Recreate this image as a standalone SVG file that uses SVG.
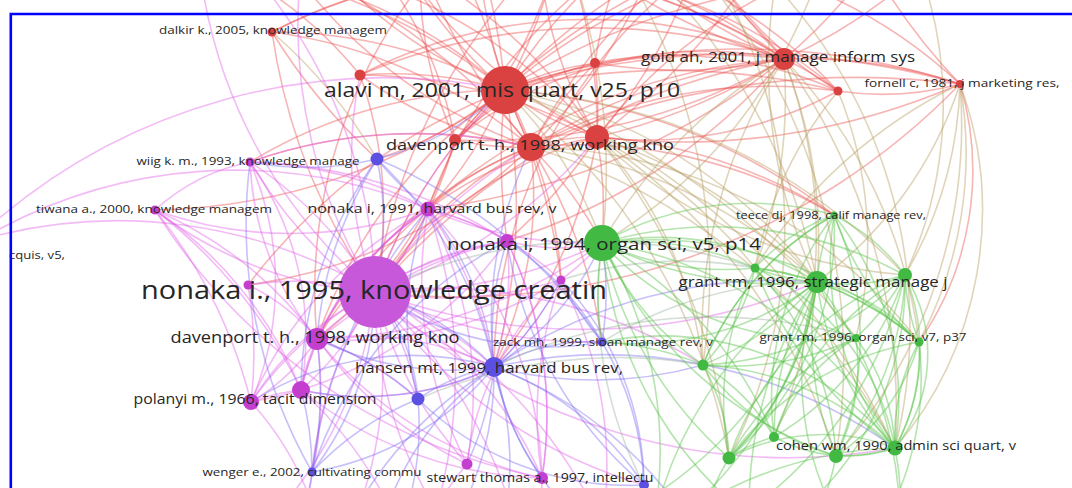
<svg xmlns="http://www.w3.org/2000/svg" width="1072" height="488" viewBox="0 0 1072 488">
<style>
#edges path{fill:none;stroke-width:1.6;stroke-opacity:.42}
#edges .r path{stroke:#ec4d4d}
#edges .o path{stroke:#b49a5c}
#edges .p path{stroke:#e05ee6}
#edges .b path{stroke:#7d6cf0}
#edges .m path{stroke:#98b09c}
#edges .g path{stroke:#5cc34c;stroke-opacity:.45}
.red{fill:#da4242}
.pur{fill:#c43fcf}
.blu{fill:#5c50e2}
.grn{fill:#42b942}
text{font-family:"Open Sans","Liberation Sans",sans-serif;fill:#262626;text-anchor:middle}
</style>
<rect width="1072" height="488" fill="#ffffff"/>
<g id="edges">
<g class="r">
<path d="M505 90A600 600 0 0 1 784 59"/>
<path d="M505 90A700 700 0 0 1 960 84"/>
<path d="M505 90A300 300 0 0 1 531 147"/>
<path d="M505 90A300 300 0 0 0 597 137"/>
<path d="M505 90A300 300 0 0 1 455 140"/>
<path d="M360 75A400 400 0 0 1 505 90"/>
<path d="M505 90A300 300 0 0 1 595 63"/>
<path d="M505 90A700 700 0 0 1 838 91"/>
<path d="M505 90A500 500 0 0 0 375 292"/>
<path d="M505 90A400 400 0 0 1 428 209"/>
<path d="M505 90A400 400 0 0 1 377 159"/>
<path d="M505 90A500 500 0 0 0 250 162"/>
<path d="M505 90A500 500 0 0 1 400 -40"/>
<path d="M505 90A500 500 0 0 0 560 -60"/>
<path d="M505 90A600 600 0 0 1 700 -50"/>
<path d="M505 90A500 500 0 0 0 300 -20"/>
<path d="M505 90A700 700 0 0 1 860 -20"/>
<path d="M505 90A500 500 0 0 1 620 -40"/>
<path d="M505 90A500 500 0 0 0 450 -50"/>
<path d="M505 90A500 500 0 0 1 350 -10"/>
<path d="M505 90A600 600 0 0 0 480 -40"/>
<path d="M505 90A600 600 0 0 1 760 -40"/>
<path d="M505 90A600 600 0 0 1 155 210"/>
<path d="M505 90A500 500 0 0 0 317 339"/>
<path d="M505 90A600 600 0 0 1 494 367"/>
<path d="M505 90A600 600 0 0 0 507 241"/>
<path d="M505 90A600 600 0 0 1 834 215"/>
<path d="M505 90A600 600 0 0 0 248 285"/>
<path d="M505 90A600 600 0 0 1 561 280"/>
<path d="M272 32A500 500 0 0 1 505 90"/>
<path d="M272 32A500 500 0 0 1 531 147"/>
<path d="M272 32A600 600 0 0 0 377 159"/>
<path d="M272 32A600 600 0 0 1 600 -30"/>
<path d="M272 32A600 600 0 0 0 375 292"/>
<path d="M272 32A500 500 0 0 1 784 59"/>
<path d="M784 59A500 500 0 0 1 960 84"/>
<path d="M784 59A600 600 0 0 0 531 147"/>
<path d="M784 59A600 600 0 0 1 597 137"/>
<path d="M784 59A300 300 0 0 1 838 91"/>
<path d="M784 59A500 500 0 0 1 595 63"/>
<path d="M784 59A500 500 0 0 1 700 -50"/>
<path d="M784 59A500 500 0 0 0 860 -20"/>
<path d="M784 59A600 600 0 0 1 560 -60"/>
<path d="M784 59A700 700 0 0 0 375 292"/>
<path d="M784 59A500 500 0 0 1 640 -30"/>
<path d="M784 59A500 500 0 0 0 920 -30"/>
<path d="M784 59A700 700 0 0 1 428 209"/>
<path d="M784 59A600 600 0 0 1 455 140"/>
<path d="M784 59A600 600 0 0 0 360 75"/>
<path d="M784 59A600 600 0 0 1 507 241"/>
<path d="M784 59A600 600 0 0 0 317 339"/>
<path d="M960 84A300 300 0 0 1 838 91"/>
<path d="M960 84A800 800 0 0 0 531 147"/>
<path d="M960 84A700 700 0 0 1 597 137"/>
<path d="M960 84A600 600 0 0 1 880 -20"/>
<path d="M960 84A800 800 0 0 0 505 90"/>
<path d="M960 84A700 700 0 0 1 375 292"/>
<path d="M960 84A300 300 0 0 1 919 342"/>
<path d="M531 147A200 200 0 0 1 597 137"/>
<path d="M531 147A400 400 0 0 0 375 292"/>
<path d="M531 147A400 400 0 0 1 602 243"/>
<path d="M531 147A300 300 0 0 0 428 209"/>
<path d="M531 147A400 400 0 0 1 494 367"/>
<path d="M531 147A400 400 0 0 0 317 339"/>
<path d="M531 147A300 300 0 0 1 455 140"/>
<path d="M531 147A500 500 0 0 1 480 -30"/>
<path d="M531 147A500 500 0 0 0 650 -30"/>
<path d="M531 147A500 500 0 0 1 602 342"/>
<path d="M531 147A500 500 0 0 1 834 215"/>
<path d="M531 147A500 500 0 0 0 250 162"/>
<path d="M531 147A500 500 0 0 1 248 285"/>
<path d="M531 147A600 600 0 0 1 420 -40"/>
<path d="M531 147A600 600 0 0 0 300 -30"/>
<path d="M531 147A400 400 0 0 1 561 280"/>
<path d="M597 137A400 400 0 0 1 602 243"/>
<path d="M597 137A400 400 0 0 0 375 292"/>
<path d="M597 137A500 500 0 0 0 700 -50"/>
<path d="M597 137A500 500 0 0 1 494 367"/>
<path d="M597 137A500 500 0 0 0 560 -60"/>
<path d="M597 137A500 500 0 0 1 400 -40"/>
<path d="M597 137A500 500 0 0 1 507 241"/>
<path d="M597 137A400 400 0 0 0 428 209"/>
<path d="M597 137A500 500 0 0 1 834 215"/>
<path d="M455 140A400 400 0 0 1 375 292"/>
<path d="M455 140A400 400 0 0 0 560 -60"/>
<path d="M455 140A400 400 0 0 1 317 339"/>
<path d="M455 140A400 400 0 0 1 784 59"/>
<path d="M455 140A400 400 0 0 0 380 -30"/>
<path d="M360 75A400 400 0 0 0 531 147"/>
<path d="M360 75A400 400 0 0 1 375 292"/>
<path d="M360 75A500 500 0 0 1 784 59"/>
<path d="M360 75A400 400 0 0 0 250 -20"/>
<path d="M360 75A500 500 0 0 1 597 137"/>
<path d="M595 63A400 400 0 0 1 620 -30"/>
<path d="M595 63A400 400 0 0 0 531 147"/>
<path d="M595 63A400 400 0 0 1 838 91"/>
<path d="M595 63A300 300 0 0 0 455 140"/>
<path d="M595 63A400 400 0 0 1 597 137"/>
<path d="M838 91A400 400 0 0 1 700 -50"/>
<path d="M838 91A500 500 0 0 0 531 147"/>
<path d="M838 91A400 400 0 0 1 597 137"/>
<path d="M400 -40A500 500 0 0 1 597 137"/>
<path d="M300 -20A500 500 0 0 0 531 147"/>
<path d="M450 -50A500 500 0 0 0 317 339"/>
<path d="M380 -30A600 600 0 0 1 784 59"/>
<path d="M680 -20A500 500 0 0 0 494 367"/>
<path d="M250 -30A600 600 0 0 1 505 90"/>
<path d="M420 -30A400 400 0 0 0 455 140"/>
<path d="M640 -40A500 500 0 0 1 838 91"/>
<path d="M540 -40A400 400 0 0 0 597 137"/>
<path d="M700 -50A600 600 0 0 0 531 147"/>
<path d="M760 -40A600 600 0 0 1 597 137"/>
<path d="M520 -40A500 500 0 0 1 784 59"/>
<path d="M330 -30A500 500 0 0 1 597 137"/>
<path d="M600 -50A500 500 0 0 1 960 84"/>
<path d="M560 -60A600 600 0 0 0 375 292"/>
<path d="M620 -40A500 500 0 0 0 428 209"/>
<path d="M720 -40A600 600 0 0 0 455 140"/>
<path d="M480 -30A500 500 0 0 1 838 91"/>
<path d="M820 -30A500 500 0 0 0 597 137"/>
<path d="M660 -50A500 500 0 0 1 784 59"/>
</g>
<g class="o">
<path d="M505 90A600 600 0 0 1 729 458"/>
<path d="M505 90A700 700 0 0 1 856 338"/>
<path d="M505 90A500 500 0 0 1 817 282"/>
<path d="M505 90A400 400 0 0 1 602 243"/>
<path d="M505 90A600 600 0 0 1 905 275"/>
<path d="M505 90A700 700 0 0 1 895 448"/>
<path d="M784 59A500 500 0 0 1 919 342"/>
<path d="M784 59A500 500 0 0 1 774 437"/>
<path d="M784 59A500 500 0 0 0 602 243"/>
<path d="M784 59A600 600 0 0 1 895 448"/>
<path d="M784 59A500 500 0 0 1 817 282"/>
<path d="M784 59A500 500 0 0 0 703 365"/>
<path d="M784 59A500 500 0 0 1 755 268"/>
<path d="M960 84A400 400 0 0 1 919 342"/>
<path d="M960 84A500 500 0 0 1 836 456"/>
<path d="M960 84A400 400 0 0 1 905 275"/>
<path d="M960 84A400 400 0 0 1 817 282"/>
<path d="M960 84A367 367 0 0 1 895 448"/>
<path d="M960 84A500 500 0 0 0 755 268"/>
<path d="M531 147A600 600 0 0 1 895 448"/>
<path d="M531 147A500 500 0 0 1 817 282"/>
<path d="M531 147A500 500 0 0 1 919 342"/>
<path d="M597 137A600 600 0 0 1 836 456"/>
<path d="M597 137A400 400 0 0 1 703 365"/>
<path d="M597 137A500 500 0 0 1 817 282"/>
<path d="M597 137A500 500 0 0 1 755 268"/>
<path d="M597 137A600 600 0 0 1 729 458"/>
<path d="M597 137A500 500 0 0 0 905 275"/>
<path d="M650 -30A600 600 0 0 1 817 282"/>
<path d="M560 -60A600 600 0 0 1 602 243"/>
<path d="M750 -40A500 500 0 0 1 895 448"/>
<path d="M820 -30A500 500 0 0 1 602 243"/>
<path d="M700 -50A500 500 0 0 1 729 458"/>
<path d="M620 -40A600 600 0 0 1 703 365"/>
<path d="M838 91A400 400 0 0 1 856 338"/>
<path d="M838 91A400 400 0 0 0 755 268"/>
<path d="M920 -30A400 400 0 0 1 905 275"/>
<path d="M272 32A500 500 0 0 1 377 159"/>
<path d="M780 -40A500 500 0 0 0 817 282"/>
<path d="M690 -40A600 600 0 0 1 836 456"/>
</g>
<g class="p">
<path d="M375 292A400 400 0 0 0 250 162"/>
<path d="M375 292A400 400 0 0 1 155 210"/>
<path d="M375 292A300 300 0 0 0 248 285"/>
<path d="M375 292A300 300 0 0 1 317 339"/>
<path d="M375 292A300 300 0 0 0 251 402"/>
<path d="M375 292A300 300 0 0 1 301 390"/>
<path d="M375 292A300 300 0 0 0 428 209"/>
<path d="M375 292A300 300 0 0 1 507 241"/>
<path d="M375 292A500 500 0 0 0 602 243"/>
<path d="M375 292A400 400 0 0 1 494 367"/>
<path d="M375 292A500 500 0 0 0 602 342"/>
<path d="M375 292A400 400 0 0 1 542 478"/>
<path d="M375 292A400 400 0 0 0 312 472"/>
<path d="M375 292A300 300 0 0 1 418 399"/>
<path d="M375 292A400 400 0 0 0 561 280"/>
<path d="M375 292A500 500 0 0 0 -20 240"/>
<path d="M375 292A400 400 0 0 1 350 530"/>
<path d="M375 292A400 400 0 0 0 450 530"/>
<path d="M375 292A500 500 0 0 1 300 -20"/>
<path d="M375 292A600 600 0 0 0 817 282"/>
<path d="M375 292A500 500 0 0 1 703 365"/>
<path d="M375 292A600 600 0 0 0 895 448"/>
<path d="M375 292A500 500 0 0 1 200 -30"/>
<path d="M375 292A500 500 0 0 0 250 -30"/>
<path d="M375 292A400 400 0 0 1 270 520"/>
<path d="M375 292A500 500 0 0 0 644 485"/>
<path d="M375 292A400 400 0 0 0 467 464"/>
<path d="M375 292A500 500 0 0 1 520 540"/>
<path d="M375 292A500 500 0 0 0 597 137"/>
<path d="M375 292A500 500 0 0 1 505 90"/>
<path d="M375 292A500 500 0 0 1 531 147"/>
<path d="M375 292A400 400 0 0 1 360 75"/>
<path d="M375 292A500 500 0 0 1 600 520"/>
<path d="M250 162A400 400 0 0 1 428 209"/>
<path d="M250 162A300 300 0 0 0 317 339"/>
<path d="M250 162A300 300 0 0 1 251 402"/>
<path d="M250 162A300 300 0 0 1 301 390"/>
<path d="M250 162A200 200 0 0 0 155 210"/>
<path d="M250 162A500 500 0 0 1 531 147"/>
<path d="M250 162A500 500 0 0 1 507 241"/>
<path d="M250 162A500 500 0 0 0 494 367"/>
<path d="M-20 240A500 500 0 0 1 428 209"/>
<path d="M-20 235A600 600 0 0 1 505 90"/>
<path d="M155 210A400 400 0 0 1 317 339"/>
<path d="M155 210A400 400 0 0 0 428 209"/>
<path d="M155 210A500 500 0 0 1 251 402"/>
<path d="M155 210A500 500 0 0 1 301 390"/>
<path d="M155 210A600 600 0 0 0 542 478"/>
<path d="M428 209A300 300 0 0 1 507 241"/>
<path d="M428 209A300 300 0 0 0 317 339"/>
<path d="M428 209A400 400 0 0 1 494 367"/>
<path d="M428 209A400 400 0 0 0 251 402"/>
<path d="M428 209A400 400 0 0 1 542 478"/>
<path d="M428 209A400 400 0 0 0 602 243"/>
<path d="M428 209A500 500 0 0 1 430 530"/>
<path d="M428 209A300 300 0 0 1 561 280"/>
<path d="M428 209A300 300 0 0 0 301 390"/>
<path d="M428 209A400 400 0 0 1 467 464"/>
<path d="M317 339A200 200 0 0 1 251 402"/>
<path d="M317 339A200 200 0 0 0 301 390"/>
<path d="M317 339A300 300 0 0 1 494 367"/>
<path d="M317 339A400 400 0 0 0 542 478"/>
<path d="M317 339A400 400 0 0 1 300 520"/>
<path d="M317 339A500 500 0 0 0 602 243"/>
<path d="M317 339A400 400 0 0 1 507 241"/>
<path d="M317 339A400 400 0 0 0 467 464"/>
<path d="M317 339A400 400 0 0 0 561 280"/>
<path d="M317 339A300 300 0 0 1 418 399"/>
<path d="M301 390A200 200 0 0 0 251 402"/>
<path d="M301 390A400 400 0 0 1 400 530"/>
<path d="M301 390A400 400 0 0 0 155 210"/>
<path d="M301 390A300 300 0 0 0 494 367"/>
<path d="M301 390A300 300 0 0 1 428 209"/>
<path d="M251 402A400 400 0 0 0 248 285"/>
<path d="M251 402A400 400 0 0 0 507 241"/>
<path d="M251 402A300 300 0 0 1 317 520"/>
<path d="M542 478A400 400 0 0 0 507 241"/>
<path d="M542 478A400 400 0 0 1 561 280"/>
<path d="M542 478A300 300 0 0 0 550 560"/>
<path d="M542 478A400 400 0 0 1 301 390"/>
<path d="M467 464A400 400 0 0 1 428 209"/>
<path d="M467 464A300 300 0 0 0 420 540"/>
<path d="M467 464A300 300 0 0 1 561 280"/>
<path d="M507 241A300 300 0 0 1 494 367"/>
<path d="M507 241A200 200 0 0 0 602 243"/>
<path d="M507 241A400 400 0 0 1 542 478"/>
<path d="M507 241A400 400 0 0 0 251 402"/>
<path d="M561 280A300 300 0 0 1 494 367"/>
<path d="M561 280A300 300 0 0 0 602 243"/>
<path d="M561 280A400 400 0 0 1 600 540"/>
<path d="M248 285A200 200 0 0 1 317 339"/>
</g>
<g class="b">
<path d="M494 367A300 300 0 0 0 375 292"/>
<path d="M494 367A200 200 0 0 1 602 342"/>
<path d="M494 367A200 200 0 0 0 418 399"/>
<path d="M494 367A300 300 0 0 1 312 472"/>
<path d="M494 367A300 300 0 0 0 542 478"/>
<path d="M494 367A300 300 0 0 1 644 485"/>
<path d="M494 367A300 300 0 0 0 428 209"/>
<path d="M494 367A300 300 0 0 1 317 339"/>
<path d="M494 367A300 300 0 0 0 602 243"/>
<path d="M494 367A300 300 0 0 1 450 530"/>
<path d="M494 367A300 300 0 0 0 600 540"/>
<path d="M494 367A500 500 0 0 1 817 282"/>
<path d="M494 367A400 400 0 0 0 703 365"/>
<path d="M494 367A500 500 0 0 1 895 448"/>
<path d="M494 367A400 400 0 0 0 377 159"/>
<path d="M494 367A300 300 0 0 1 500 540"/>
<path d="M494 367A300 300 0 0 0 380 530"/>
<path d="M494 367A300 300 0 0 1 467 464"/>
<path d="M494 367A400 400 0 0 1 531 147"/>
<path d="M494 367A300 300 0 0 1 507 241"/>
<path d="M494 367A300 300 0 0 0 561 280"/>
<path d="M494 367A300 300 0 0 1 301 390"/>
<path d="M494 367A300 300 0 0 0 251 402"/>
<path d="M494 367A400 400 0 0 1 700 540"/>
<path d="M494 367A400 400 0 0 0 340 540"/>
<path d="M377 159A300 300 0 0 1 375 292"/>
<path d="M377 159A300 300 0 0 0 428 209"/>
<path d="M377 159A400 400 0 0 0 317 339"/>
<path d="M377 159A500 500 0 0 1 602 342"/>
<path d="M377 159A300 300 0 0 0 505 90"/>
<path d="M377 159A300 300 0 0 1 250 162"/>
<path d="M377 159A400 400 0 0 0 301 390"/>
<path d="M312 472A300 300 0 0 0 375 292"/>
<path d="M312 472A300 300 0 0 1 418 399"/>
<path d="M312 472A500 500 0 0 1 250 162"/>
<path d="M312 472A300 300 0 0 1 300 530"/>
<path d="M312 472A500 500 0 0 1 428 209"/>
<path d="M312 472A400 400 0 0 0 317 339"/>
<path d="M312 472A400 400 0 0 1 507 241"/>
<path d="M312 472A300 300 0 0 0 301 390"/>
<path d="M418 399A200 200 0 0 0 375 292"/>
<path d="M418 399A300 300 0 0 1 400 530"/>
<path d="M418 399A300 300 0 0 1 428 209"/>
<path d="M418 399A300 300 0 0 0 317 339"/>
<path d="M602 342A300 300 0 0 0 602 243"/>
<path d="M602 342A300 300 0 0 1 375 292"/>
<path d="M602 342A300 300 0 0 0 507 241"/>
<path d="M602 342A300 300 0 0 1 561 280"/>
<path d="M644 485A300 300 0 0 0 602 342"/>
<path d="M644 485A300 300 0 0 1 418 399"/>
<path d="M644 485A400 400 0 0 1 507 241"/>
<path d="M644 485A300 300 0 0 0 561 280"/>
</g>
<g class="m">
<path d="M602 342A400 400 0 0 1 817 282"/>
<path d="M494 367A500 500 0 0 1 856 338"/>
<path d="M375 292A500 500 0 0 1 755 268"/>
<path d="M602 243A400 400 0 0 0 644 485"/>
<path d="M418 399A500 500 0 0 1 703 365"/>
<path d="M561 280A400 400 0 0 1 755 268"/>
</g>
<g class="g">
<path d="M602 243A300 300 0 0 1 817 282"/>
<path d="M602 243A300 300 0 0 0 755 268"/>
<path d="M602 243A400 400 0 0 1 905 275"/>
<path d="M602 243A300 300 0 0 0 856 338"/>
<path d="M602 243A400 400 0 0 1 919 342"/>
<path d="M602 243A300 300 0 0 0 703 365"/>
<path d="M602 243A400 400 0 0 1 895 448"/>
<path d="M602 243A400 400 0 0 0 729 458"/>
<path d="M602 243A400 400 0 0 1 774 437"/>
<path d="M602 243A400 400 0 0 0 836 456"/>
<path d="M602 243A300 300 0 0 1 834 215"/>
<path d="M602 243A300 300 0 0 0 602 342"/>
<path d="M602 243A400 400 0 0 1 650 540"/>
<path d="M602 243A400 400 0 0 0 780 540"/>
<path d="M602 243A300 300 0 0 1 755 268"/>
<path d="M602 243A400 400 0 0 0 817 282"/>
<path d="M817 282A200 200 0 0 1 755 268"/>
<path d="M817 282A200 200 0 0 0 905 275"/>
<path d="M817 282A200 200 0 0 1 834 215"/>
<path d="M817 282A200 200 0 0 0 856 338"/>
<path d="M817 282A200 200 0 0 1 919 342"/>
<path d="M817 282A300 300 0 0 0 895 448"/>
<path d="M817 282A300 300 0 0 1 729 458"/>
<path d="M817 282A300 300 0 0 0 836 456"/>
<path d="M817 282A300 300 0 0 1 703 365"/>
<path d="M817 282A400 400 0 0 0 750 530"/>
<path d="M817 282A400 400 0 0 1 900 530"/>
<path d="M817 282A300 300 0 0 0 774 437"/>
<path d="M817 282A300 300 0 0 1 602 342"/>
<path d="M817 282A400 400 0 0 0 650 540"/>
<path d="M834 215A200 200 0 0 1 905 275"/>
<path d="M834 215A300 300 0 0 1 895 448"/>
<path d="M834 215A300 300 0 0 0 919 342"/>
<path d="M834 215A200 200 0 0 0 755 268"/>
<path d="M834 215A300 300 0 0 1 729 458"/>
<path d="M834 215A300 300 0 0 1 836 456"/>
<path d="M834 215A300 300 0 0 0 703 365"/>
<path d="M905 275A150 150 0 0 1 895 448"/>
<path d="M905 275A200 200 0 0 1 895 448"/>
<path d="M905 275A200 200 0 0 0 919 342"/>
<path d="M905 275A300 300 0 0 1 836 456"/>
<path d="M905 275A300 300 0 0 0 729 458"/>
<path d="M905 275A300 300 0 0 1 703 365"/>
<path d="M905 275A300 300 0 0 0 774 437"/>
<path d="M905 275A250 250 0 0 1 856 338"/>
<path d="M895 448A200 200 0 0 0 729 458"/>
<path d="M895 448A150 150 0 0 1 774 437"/>
<path d="M895 448A200 200 0 0 1 836 456"/>
<path d="M895 448A200 200 0 0 0 856 338"/>
<path d="M895 448A200 200 0 0 1 919 342"/>
<path d="M895 448A300 300 0 0 0 703 365"/>
<path d="M895 448A300 300 0 0 1 900 530"/>
<path d="M895 448A400 400 0 0 1 755 268"/>
<path d="M895 448A300 300 0 0 1 834 215"/>
<path d="M895 448A250 250 0 0 0 755 268"/>
<path d="M895 448A300 300 0 0 0 602 342"/>
<path d="M703 365A200 200 0 0 1 729 458"/>
<path d="M703 365A300 300 0 0 0 856 338"/>
<path d="M703 365A300 300 0 0 1 834 215"/>
<path d="M856 338A200 200 0 0 1 836 456"/>
<path d="M856 338A300 300 0 0 0 729 458"/>
<path d="M856 338A200 200 0 0 1 755 268"/>
<path d="M729 458A150 150 0 0 1 774 437"/>
<path d="M729 458A200 200 0 0 0 700 540"/>
<path d="M729 458A300 300 0 0 1 919 342"/>
<path d="M729 458A300 300 0 0 0 817 282"/>
<path d="M836 456A200 200 0 0 1 800 540"/>
<path d="M836 456A200 200 0 0 0 919 342"/>
<path d="M836 456A250 250 0 0 1 703 365"/>
<path d="M919 342A300 300 0 0 1 880 530"/>
<path d="M919 342A300 300 0 0 0 755 268"/>
<path d="M919 342A200 200 0 0 1 895 448"/>
<path d="M755 268A200 200 0 0 1 703 365"/>
<path d="M774 437A200 200 0 0 0 703 365"/>
<path d="M774 437A200 200 0 0 1 856 338"/>
<path d="M774 437A300 300 0 0 0 905 275"/>
<path d="M755 268A300 300 0 0 0 729 458"/>
<path d="M700 540A400 400 0 0 0 905 275"/>
<path d="M602 342A300 300 0 0 1 703 365"/>
<path d="M755 268A300 300 0 0 1 919 342"/>
<path d="M774 437A300 300 0 0 1 834 215"/>
<path d="M836 456A300 300 0 0 0 755 268"/>
<path d="M650 540A400 400 0 0 0 817 282"/>
<path d="M650 540A400 400 0 0 1 895 448"/>
<path d="M560 540A400 400 0 0 0 817 282"/>
<path d="M760 540A300 300 0 0 0 905 275"/>
<path d="M850 540A300 300 0 0 1 817 282"/>
</g>
</g>
<g id="nodes">
<g id="n-r1"><circle class="red" cx="360" cy="75" r="5.5"/></g>
<g id="n-r2"><circle class="red" cx="595" cy="63" r="5"/></g>
<g id="n-r3"><circle class="red" cx="838" cy="91" r="4.5"/></g>
<g id="n-r4"><circle class="red" cx="455" cy="140" r="6"/></g>
<g id="n-dt2"><circle class="red" cx="597" cy="137" r="12"/></g>
<g id="n-b1"><circle class="blu" cx="377" cy="159" r="6.5"/></g>
<g id="n-p94"><circle class="pur" cx="507" cy="241" r="7"/></g>
<g id="n-p1"><circle class="pur" cx="248" cy="285" r="4.5"/></g>
<g id="n-p2"><circle class="pur" cx="561" cy="280" r="4.5"/></g>
<g id="n-g1"><circle class="grn" cx="755" cy="268" r="4.5"/></g>
<g id="n-g2"><circle class="grn" cx="905" cy="275" r="7"/></g>
<g id="n-go1"><circle class="grn" cx="856" cy="338" r="4"/></g>
<g id="n-go2"><circle class="grn" cx="919" cy="342" r="4.5"/></g>
<g id="n-g3"><circle class="grn" cx="703" cy="365" r="5.5"/></g>
<g id="n-p3"><circle class="pur" cx="301" cy="390" r="9"/></g>
<g id="n-b2"><circle class="blu" cx="418" cy="399" r="6.5"/></g>
<g id="n-g4"><circle class="grn" cx="729" cy="458" r="6.5"/></g>
<g id="n-g5"><circle class="grn" cx="774" cy="437" r="5"/></g>
<g id="n-g6"><circle class="grn" cx="836" cy="456" r="7"/></g>
<g id="n-s2"><circle class="pur" cx="467" cy="464" r="5.5"/></g>
<g id="n-b3"><circle class="blu" cx="644" cy="485" r="5"/></g>
<g id="n-dalkir"><circle class="red" cx="272" cy="32" r="4.5"/><text x="273" y="34" font-size="11.5" textLength="228" lengthAdjust="spacingAndGlyphs">dalkir k., 2005, knowledge managem</text></g>
<g id="n-alavi"><circle class="red" cx="505" cy="90" r="24"/><text x="502" y="97" font-size="20" textLength="356" lengthAdjust="spacingAndGlyphs">alavi m, 2001, mis quart, v25, p10</text></g>
<g id="n-gold"><circle class="red" cx="784" cy="59" r="11"/><text x="778" y="62" font-size="14" textLength="274" lengthAdjust="spacingAndGlyphs">gold ah, 2001, j manage inform sys</text></g>
<g id="n-fornell"><circle class="red" cx="960" cy="84" r="4"/><text x="962" y="87" font-size="11" textLength="195" lengthAdjust="spacingAndGlyphs">fornell c, 1981, j marketing res,</text></g>
<g id="n-davenport1"><circle class="red" cx="531" cy="147" r="14"/><text x="530" y="150" font-size="15" textLength="288" lengthAdjust="spacingAndGlyphs">davenport t. h., 1998, working kno</text></g>
<g id="n-wiig"><circle class="pur" cx="250" cy="162" r="4.5"/><text x="248" y="165" font-size="11.5" textLength="223" lengthAdjust="spacingAndGlyphs">wiig k. m., 1993, knowledge manage</text></g>
<g id="n-tiwana"><circle class="pur" cx="155" cy="210" r="4.5"/><text x="154" y="213" font-size="11.5" textLength="236" lengthAdjust="spacingAndGlyphs">tiwana a., 2000, knowledge managem</text></g>
<g id="n-nonaka1991"><circle class="pur" cx="428" cy="209" r="7.5"/><text x="432" y="213" font-size="13" textLength="249" lengthAdjust="spacingAndGlyphs">nonaka i, 1991, harvard bus rev, v</text></g>
<g id="n-teece"><circle class="grn" cx="834" cy="215" r="3.5"/><text x="831" y="219" font-size="10.5" textLength="190" lengthAdjust="spacingAndGlyphs">teece dj, 1998, calif manage rev,</text></g>
<g id="n-nonaka1994"><circle class="grn" cx="602" cy="243" r="18"/><text x="604" y="250" font-size="17" textLength="314" lengthAdjust="spacingAndGlyphs">nonaka i, 1994, organ sci, v5, p14</text></g>
<g id="n-cquis"><text x="9" y="259" font-size="11" style="text-anchor:start" textLength="56" lengthAdjust="spacingAndGlyphs">cquis, v5,</text></g>
<g id="n-nonaka1995"><circle cx="375" cy="292" r="36" fill="#c658d9"/><text x="374" y="299" font-size="26" textLength="466" lengthAdjust="spacingAndGlyphs">nonaka i., 1995, knowledge creatin</text></g>
<g id="n-grant1"><circle class="grn" cx="817" cy="282" r="11"/><text x="813" y="287" font-size="14" textLength="269" lengthAdjust="spacingAndGlyphs">grant rm, 1996, strategic manage j</text></g>
<g id="n-davenport2"><circle class="pur" cx="317" cy="339" r="11"/><text x="315" y="343" font-size="16" textLength="289" lengthAdjust="spacingAndGlyphs">davenport t. h., 1998, working kno</text></g>
<g id="n-zack"><circle class="blu" cx="602" cy="342" r="4.5"/><text x="603" y="346" font-size="10.5" textLength="220" lengthAdjust="spacingAndGlyphs">zack mh, 1999, sloan manage rev, v</text></g>
<g id="n-grant2"><text x="863" y="341" font-size="10.5" textLength="207" lengthAdjust="spacingAndGlyphs">grant rm, 1996, organ sci, v7, p37</text></g>
<g id="n-hansen"><circle class="blu" cx="494" cy="367" r="10"/><text x="489" y="373" font-size="14" textLength="268" lengthAdjust="spacingAndGlyphs">hansen mt, 1999, harvard bus rev,</text></g>
<g id="n-polanyi"><circle class="pur" cx="251" cy="402" r="8"/><text x="255" y="404" font-size="14" textLength="243" lengthAdjust="spacingAndGlyphs">polanyi m., 1966, tacit dimension</text></g>
<g id="n-cohen"><circle class="grn" cx="895" cy="448" r="7.5"/><text x="896" y="450" font-size="12.5" textLength="240" lengthAdjust="spacingAndGlyphs">cohen wm, 1990, admin sci quart, v</text></g>
<g id="n-wenger"><circle class="blu" cx="312" cy="472" r="4.5"/><text x="312" y="476" font-size="11.5" textLength="219" lengthAdjust="spacingAndGlyphs">wenger e., 2002, cultivating commu</text></g>
<g id="n-stewart"><circle class="pur" cx="542" cy="478" r="6"/><text x="540" y="482" font-size="12" textLength="227" lengthAdjust="spacingAndGlyphs">stewart thomas a., 1997, intellectu</text></g>
</g>
<path d="M10.8 488V14H1072" fill="none" stroke="#0000ff" stroke-width="2.6"/>
</svg>
